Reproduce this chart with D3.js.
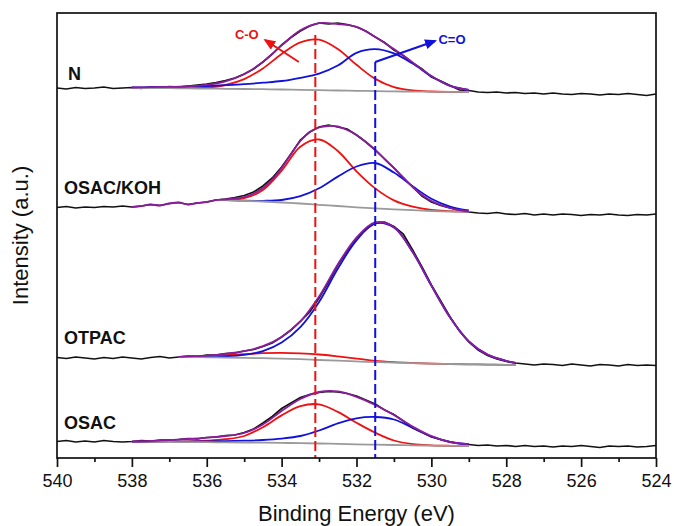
<!DOCTYPE html>
<html>
<head>
<meta charset="utf-8">
<script src="https://cdn.jsdelivr.net/npm/d3@7"></script>
<style>
body { margin: 0; background: #fff; }
text { font-family: Arial, "Liberation Sans", sans-serif; }
</style>
</head>
<body>
<div id="chart"></div>
<script>
// binding energy grids (eV)
var rawE = d3.range(540, 523.9, -0.25);
var fitE = d3.range(538, 528.9, -0.5);
var kohE = [535.75, 535.5, 535, 534.5, 534, 533.5, 533, 532.5, 532, 531.5, 531, 530.5, 530, 529.5, 529];
var kohEnvE = d3.range(538, 528.9, -0.25);
var otpacE = [536.75, 536.5, 536, 535.5, 535, 534.5, 534, 533.5, 533, 532.5, 532, 531.5, 531, 530.5, 530, 529.5, 529, 528.5, 528, 527.75];

var xTicks = [540, 538, 536, 534, 532, 530, 528, 526, 524];
var xMinorTicks = [539, 537, 535, 533, 531, 529, 527, 525];
var names = ["N", "OSAC/KOH", "OTPAC", "OSAC"];

// raw spectra (stacked, a.u.)
var rawN = [370,369,370.5,369.5,370,371,369.5,370,370.5,369.5,
  371,370.5,371.5,371,372,373,374,375.5,377.5,380,
  384,389,396,404,413,420.5,427,432,435,434,
  435,433.5,431,427,421,415.5,408,402.5,395,389,
  381,377,372.5,368,367.5,366,365.5,366,365,365.5,
  364.5,365,364,365,364,363.5,364.5,364,363,364,
  363.5,364.5,363.5,362.5,364];
var rawKOH = [250.5,251.5,250,251,250.5,251.5,251,252,251,252,
  253.5,252.5,254.5,255.5,253.5,255,256,258,259,260.5,
  262.5,266,272,280,291,304,318,326,331,333,
  331,329,323,316,308,299,290,280,271,262,
  256,252.5,250,247.5,246,245,244.5,245.5,244,243.5,
  244.5,243,244,243,244,243.5,242.5,243.5,243,244,
  243,242.5,243.5,243,244];
var rawOTPAC = [100.5,99.5,101,100,99,100.5,99.5,101,100,99,
  100.5,101.5,100,101,102,101.5,103,103,104.5,105,
  107,108.5,111.5,115,121,128,136.5,146,160,176,
  193,207,220,229,235,236,231.5,224,208,191,
  173,157,141,127,116,108,102.5,99,96.5,95,
  94,93,94,93.5,92.5,94,93,92,93.5,93,
  92,93.5,92.5,93,92.5];
var rawOSAC = [16.5,17.5,16,17,16,17.5,16.5,16,16.5,17.5,
  17,18,18,18.5,19.5,19,20.5,21,22.5,23,
  25.5,29,35,41.5,49.5,55,60.5,63.5,65.5,66.5,
  66,64.5,62,58,54,48,43.5,37,30,25.5,
  21,18.5,16,14.5,13.5,12.5,13,12,12.5,11.5,
  12.5,11.5,12,11,12,11.5,12.5,11.5,10.5,12,
  11.5,12,11,11.5,12.5];

// N fit
var grayN = [370,370,369.8,369.6,369.4,369.2,369,368.8,368.5,368.2,367.9,367.5,367.2,366.9,366.6,366.4,366.2,366.1,366];
var redN  = [370,370,369.9,369.9,370.5,373,378.9,389.6,404.1,415.7,418.4,409,393.2,379.1,370.9,367.6,366.5,366.1,366];
var blueN = [370.5,370.8,371,371.4,372,372.8,373.8,375.3,377,380.2,384.4,392.5,405.2,408.9,404.6,394.4,381.7,372.1,368];
var envN  = [370.5,370.8,371.1,371.7,373.1,376.6,383.7,396.1,412.6,427.7,434.9,434,431.2,421.1,408.9,395.6,382,372.1,368];

// OSAC/KOH fit
var grayKOH = [258,257.8,257.2,256.5,255.5,254.5,253.2,252,250.7,249.6,248.6,247.8,247,246.5,246];
var redKOH  = [258,258.2,259.8,268,287.4,311.3,318.5,307,286.7,269.6,257.6,251.3,248,246.8,246];
var blueKOH = [258,257.8,257.3,257.2,258,261.8,269.7,281.4,291.5,295,285.4,271.8,259.3,251.4,247.5];
var envKOH  = [251,252,253.5,252.5,254.5,255.5,253.5,255,256,258,
  258.5,259.5,261,264.5,270,278.5,290,304,317,326,
  330.5,332,331.5,328,323,316,308,299,290,280.5,
  271,263,257,253,250,248,246.5];

// OTPAC fit
var grayOTPAC = [101,100.9,100.7,100.4,100.1,99.8,99.4,98.8,98,97.3,96.6,96,95.4,94.9,94.4,94,93.7,93.4,93.2,93];
var redOTPAC  = [101.2,101.4,101.9,102.8,103.8,104.8,105.1,104.6,103.5,101.6,99.4,97.1,95.8,95,94.4,94,93.7,93.4,93.2,93];
var blueOTPAC = [101,101.1,101.2,101.7,103.1,106.8,115.4,130.8,156,189.3,217.6,234.5,230.4,205.9,172.4,140.5,116.7,103.4,97.1,95];
var envOTPAC  = [101.2,101.6,102.4,104.1,106.8,111.8,121.1,136.6,161.5,193.6,220.4,235.6,230.8,206,172.4,140.5,116.7,103.4,97.1,95];

// OSAC fit
var grayOSAC = [16.3,16.1,16,15.9,15.8,15.6,15.5,15.3,15.1,14.8,14.5,14.1,13.7,13.3,13,12.7,12.4,12.2,12];
var redOSAC  = [16.3,16.2,16.2,16.5,17.3,18.8,22,30.8,42.6,51.8,53.7,46.1,35.2,25.3,17.5,13.9,12.7,12.2,12];
var blueOSAC = [16.4,16.3,16.3,16.4,16.6,16.8,17.3,18,19.4,22,27.5,34.6,39.7,41,38.5,30.2,21.6,16,13.8];
var envOSAC  = [16.4,17,18,19,20.3,22,25,33.5,47,59,66,66.6,61.2,53,43,31.4,21.9,16,13.8];

// peak reference lines: position (eV) and top (a.u.)
var peakE = [533.1, 531.5];
var peakTop = [423, 396];

var spectra = [
  {raw: rawN, fitE: fitE, gray: grayN, red: redN, blue: blueN, envE: fitE, env: envN},
  {raw: rawKOH, fitE: kohE, gray: grayKOH, red: redKOH, blue: blueKOH, envE: kohEnvE, env: envKOH},
  {raw: rawOTPAC, fitE: otpacE, gray: grayOTPAC, red: redOTPAC, blue: blueOTPAC, envE: otpacE, env: envOTPAC},
  {raw: rawOSAC, fitE: fitE, gray: grayOSAC, red: redOSAC, blue: blueOSAC, envE: fitE, env: envOSAC}
];

var W = 674, H = 526;
var plotL = 57, plotR = 656, plotT = 13, plotB = 458;

var x = d3.scaleLinear().domain([540, 524]).range([plotL, plotR]);
var y = d3.scaleLinear().domain([0, 445]).range([plotB, plotT]);

var svg = d3.select("#chart").append("svg")
    .attr("width", W)
    .attr("height", H);

var colors = {gray: "#9a9a9a", red: "#ee1111", blue: "#1111dd", env: "#8b1c9c"};

var defs = svg.append("defs");
["red", "blue"].forEach(function(c) {
  defs.append("marker")
    .attr("id", "arrow-" + c)
    .attr("markerUnits", "userSpaceOnUse")
    .attr("markerWidth", 12)
    .attr("markerHeight", 10)
    .attr("refX", 10)
    .attr("refY", 5)
    .attr("orient", "auto")
    .append("path")
    .attr("d", "M0,0 L12,5 L0,10 Z")
    .attr("fill", colors[c]);
});

function lineOf(E, curve) {
  return d3.line()
    .x(function(d, i) { return x(E[i]); })
    .y(function(d) { return y(d); })
    .curve(curve);
}

spectra.forEach(function(s) {
  svg.append("path")
    .datum(s.raw)
    .attr("fill", "none")
    .attr("stroke", "#111")
    .attr("stroke-width", 1.7)
    .attr("d", lineOf(rawE, d3.curveLinear));

  // components first, background over their tails, envelope on top
  ["red", "blue", "gray"].forEach(function(k) {
    svg.append("path")
      .datum(s[k])
      .attr("fill", "none")
      .attr("stroke", colors[k])
      .attr("stroke-width", 1.8)
      .attr("d", lineOf(s.fitE, d3.curveCatmullRom));
  });

  svg.append("path")
    .datum(s.env)
    .attr("fill", "none")
    .attr("stroke", colors.env)
    .attr("stroke-width", 1.8)
    .attr("d", lineOf(s.envE, d3.curveCatmullRom));
});

// dashed peak lines
svg.selectAll(".peak")
  .data(peakE)
  .enter().append("line")
  .attr("class", "peak")
  .attr("x1", function(d) { return x(d); })
  .attr("x2", function(d) { return x(d); })
  .attr("y1", function(d, i) { return y(peakTop[i]); })
  .attr("y2", plotB)
  .attr("stroke", function(d, i) { return i == 0 ? colors.red : colors.blue; })
  .attr("stroke-width", 2)
  .attr("stroke-dasharray", "10,4");

// annotations
svg.append("line")
  .attr("x1", x(533.54)).attr("y1", y(396))
  .attr("x2", x(534.44)).attr("y2", y(418))
  .attr("stroke", colors.red).attr("stroke-width", 2)
  .attr("marker-end", "url(#arrow-red)");
svg.append("text")
  .attr("x", x(534.93)).attr("y", y(419))
  .attr("text-anchor", "middle")
  .style("font-size", "13px")
  .style("font-weight", "bold")
  .attr("fill", colors.red)
  .text("C-O");

svg.append("line")
  .attr("x1", x(531.5)).attr("y1", y(396))
  .attr("x2", x(529.9)).attr("y2", y(417))
  .attr("stroke", colors.blue).attr("stroke-width", 2)
  .attr("marker-end", "url(#arrow-blue)");
svg.append("text")
  .attr("x", x(529.45)).attr("y", y(414))
  .attr("text-anchor", "middle")
  .style("font-size", "13px")
  .style("font-weight", "bold")
  .attr("fill", colors.blue)
  .text("C=O");

// sample labels
var labelX = [68, 64, 64, 64];
var labelDy = [8, 13.5, 13.5, 12.5];
names.forEach(function(n, i) {
  svg.append("text")
    .attr("x", labelX[i])
    .attr("y", y(spectra[i].raw[0]) - labelDy[i])
    .style("font-size", "18px")
    .style("font-weight", "bold")
    .attr("fill", "#111")
    .text(n);
});

// frame
svg.append("rect")
  .attr("x", plotL).attr("y", plotT)
  .attr("width", plotR - plotL).attr("height", plotB - plotT)
  .attr("fill", "none")
  .attr("stroke", "#111")
  .attr("stroke-width", 1.7);

// x axis
var gx = svg.append("g")
  .attr("transform", "translate(0," + plotB + ")")
  .call(d3.axisBottom(x).tickValues(xTicks).tickSize(9).tickPadding(7).tickFormat(d3.format("d")));
gx.select(".domain").remove();
gx.selectAll(".tick line").attr("stroke", "#111").attr("stroke-width", 1.7);
gx.selectAll(".tick text")
  .style("font-size", "18px")
  .style("font-family", "Arial, 'Liberation Sans', sans-serif")
  .attr("fill", "#111");

var gm = svg.append("g")
  .attr("transform", "translate(0," + plotB + ")")
  .call(d3.axisBottom(x).tickValues(xMinorTicks).tickSize(4).tickFormat(""));
gm.select(".domain").remove();
gm.selectAll(".tick line").attr("stroke", "#111").attr("stroke-width", 1.7);

svg.append("text")
  .attr("x", (plotL + plotR) / 2)
  .attr("y", 521)
  .attr("text-anchor", "middle")
  .style("font-size", "22px")
  .attr("fill", "#111")
  .text("Binding Energy (eV)");

svg.append("text")
  .attr("transform", "translate(28," + ((plotT + plotB) / 2) + ") rotate(-90)")
  .attr("text-anchor", "middle")
  .style("font-size", "22px")
  .attr("fill", "#111")
  .text("Intensity (a.u.)");
</script>
</body>
</html>
